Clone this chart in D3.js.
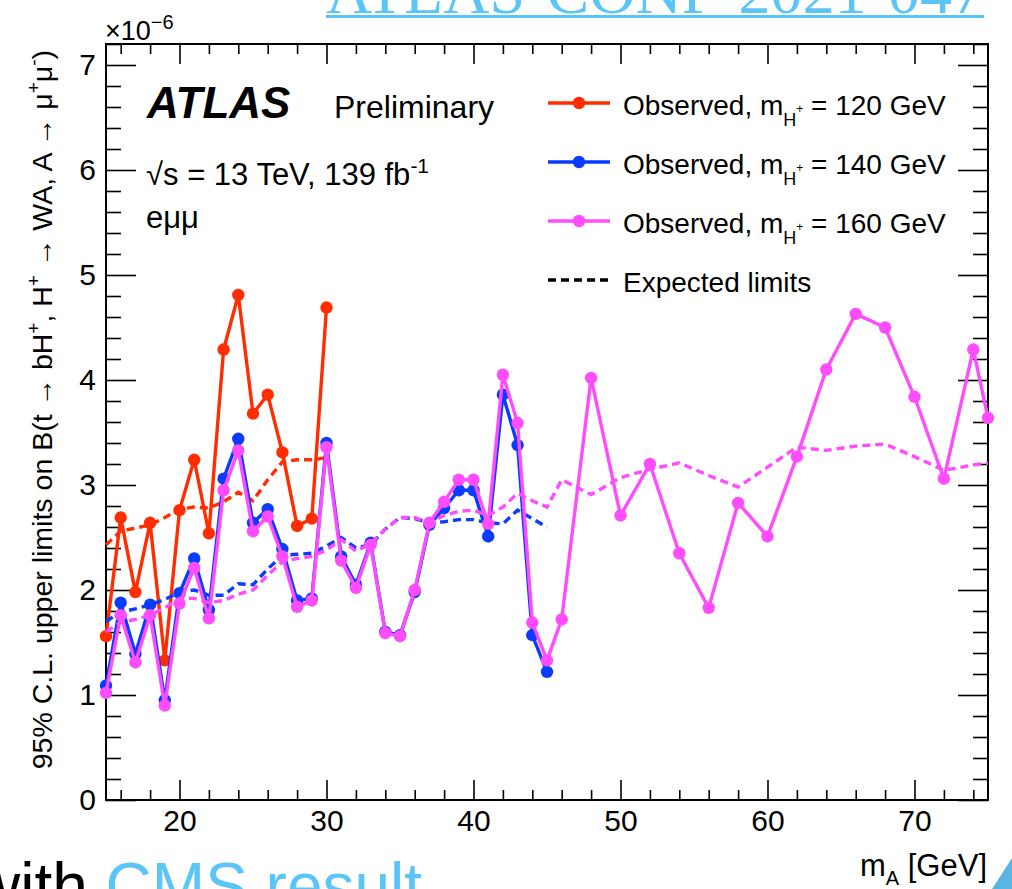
<!DOCTYPE html>
<html>
<head>
<meta charset="utf-8">
<script src="https://cdn.jsdelivr.net/npm/d3@7"></script>
<style>
  body { margin: 0; background: #fff; }
  svg text { font-family: "Liberation Sans", Arial, Helvetica, sans-serif; }
</style>
</head>
<body>
<svg id="chart" width="1012" height="889"></svg>
<script>
// ---- data: 95% CL upper limits (units of 1e-6) vs m_A [GeV] ----
const massH120 = [15,16,17,18,19,20,21,22,23,24,25,26,27,28,29,30];
const obsH120  = [1.56,2.69,1.98,2.64,1.33,2.76,3.24,2.54,4.29,4.81,3.68,3.86,3.31,2.61,2.68,4.69];
const expH120  = [2.43,2.56,2.59,2.62,2.69,2.77,2.79,2.78,2.84,2.93,2.85,3.05,3.22,3.24,3.24,3.26];

const massH140 = [15,16,17,18,19,20,21,22,23,24,25,26,27,28,29,30,31,32,33,34,35,36,37,38,39,40,41,42,43,44,45];
const obsH140  = [1.09,1.88,1.39,1.86,0.95,1.97,2.30,1.81,3.06,3.44,2.64,2.77,2.39,1.90,1.92,3.40,
                  2.32,2.05,2.45,1.60,1.57,1.98,2.62,2.78,2.95,2.95,2.51,3.86,3.38,1.57,1.22];
const expH140  = [1.70,1.79,1.82,1.86,1.91,1.98,2.00,1.95,1.95,2.06,2.05,2.20,2.33,2.34,2.35,2.42,
                  2.50,2.40,2.43,2.58,2.69,2.68,2.64,2.65,2.67,2.67,2.64,2.63,2.76,2.68,2.60];

const massH160 = [15,16,17,18,19,20,21,22,23,24,25,26,27,28,29,30,31,32,33,34,35,36,37,38,39,40,
                  41,42,43,44,45,46,48,50,52,54,56,58,60,62,64,66,68,70,72,74,75];
const obsH160  = [1.02,1.76,1.31,1.76,0.90,1.87,2.21,1.73,2.95,3.33,2.56,2.70,2.32,1.84,1.90,3.36,
                  2.28,2.02,2.43,1.59,1.56,2.00,2.64,2.84,3.05,3.05,2.63,4.05,3.59,1.69,1.33,1.72,
                  4.02,2.71,3.20,2.35,1.83,2.83,2.51,3.27,4.10,4.63,4.50,3.84,3.06,4.29,3.64];
const expH160  = [1.60,1.69,1.72,1.76,1.83,1.92,1.92,1.88,1.90,1.96,2.00,2.14,2.27,2.30,2.32,2.38,
                  2.48,2.37,2.44,2.58,2.69,2.69,2.64,2.71,2.75,2.76,2.71,2.79,2.92,2.85,2.79,3.05,
                  2.91,3.07,3.15,3.21,3.09,2.98,3.17,3.36,3.33,3.37,3.39,3.27,3.14,3.19,3.21];

const xMajorTicks = [20,30,40,50,60,70];
const xMinorTicks = [16,18,22,24,26,28,32,34,36,38,42,44,46,48,52,54,56,58,62,64,66,68,72,74];
const yMajorTicks = [0,1,2,3,4,5,6,7];
const yMinorTicks = [0.2,0.4,0.6,0.8,1.2,1.4,1.6,1.8,2.2,2.4,2.6,2.8,3.2,3.4,3.6,3.8,
                     4.2,4.4,4.6,4.8,5.2,5.4,5.6,5.8,6.2,6.4,6.6,6.8,7.2];

const seriesDefs = [
  { mass: massH120, obs: obsH120, exp: expH120, color: "#ff2d00", label: "120 GeV" },
  { mass: massH140, obs: obsH140, exp: expH140, color: "#0a3cff", label: "140 GeV" },
  { mass: massH160, obs: obsH160, exp: expH160, color: "#ff4cff", label: "160 GeV" }
];

// ---- frame ----
const svg = d3.select("#chart");
const frameL = 106, frameR = 988, frameT = 44, frameB = 800;
const x = d3.scaleLinear().domain([15, 75]).range([frameL, frameR]);
const y = d3.scaleLinear().domain([0, 7.2]).range([frameB, frameT]);

// header / footer slide text
svg.append("text")
  .attr("x", 326).attr("y", 13)
  .style("font-family", "'Liberation Serif', 'Times New Roman', serif")
  .attr("font-size", 64).attr("fill", "#5cc5f8")
  .attr("textLength", 658).attr("lengthAdjust", "spacingAndGlyphs")
  .text("ATLAS-CONF-2021-047");
svg.append("rect").attr("x", 326).attr("y", 15).attr("width", 658).attr("height", 3).attr("fill", "#5cc5f8");

const foot = svg.append("text").attr("x", -26).attr("y", 908).attr("font-size", 64);
foot.append("tspan").attr("fill", "#000").text("with ");
foot.append("tspan").attr("fill", "#5cc5f8").text("CMS result");
svg.append("polygon").attr("points", "1012,858 1012,889 992,889").attr("fill", "#5ab4e4");

// ---- axes ----
function tidy(g) { g.select(".domain").remove(); g.selectAll("line").attr("stroke", "#000").attr("stroke-width", 1.6); }
function labelStyle(g) {
  g.selectAll("text").attr("font-size", 30).attr("fill", "#000")
    .style("font-family", "'Liberation Sans', Arial, sans-serif");
}

svg.append("g").attr("transform", `translate(0,${frameB})`)
  .call(d3.axisBottom(x).tickValues(xMinorTicks).tickSize(-10).tickFormat(""))
  .call(tidy);
svg.append("g").attr("transform", `translate(0,${frameB})`)
  .call(d3.axisBottom(x).tickValues(xMajorTicks).tickSize(-20).tickPadding(10).tickFormat(d3.format("d")))
  .call(tidy).call(labelStyle);
svg.append("g").attr("transform", `translate(0,${frameT})`)
  .call(d3.axisTop(x).tickValues(xMinorTicks).tickSize(-10).tickFormat(""))
  .call(tidy);
svg.append("g").attr("transform", `translate(0,${frameT})`)
  .call(d3.axisTop(x).tickValues(xMajorTicks).tickSize(-20).tickFormat(""))
  .call(tidy);

svg.append("g").attr("transform", `translate(${frameL},0)`)
  .call(d3.axisLeft(y).tickValues(yMinorTicks).tickSize(-15).tickFormat(""))
  .call(tidy);
svg.append("g").attr("transform", `translate(${frameL},0)`)
  .call(d3.axisLeft(y).tickValues(yMajorTicks).tickSize(-30).tickPadding(10).tickFormat(d3.format("d")))
  .call(tidy).call(labelStyle);
svg.append("g").attr("transform", `translate(${frameR},0)`)
  .call(d3.axisRight(y).tickValues(yMinorTicks).tickSize(-15).tickFormat(""))
  .call(tidy);
svg.append("g").attr("transform", `translate(${frameR},0)`)
  .call(d3.axisRight(y).tickValues(yMajorTicks).tickSize(-30).tickFormat(""))
  .call(tidy);

svg.append("rect").attr("x", frameL).attr("y", frameT).attr("width", frameR - frameL).attr("height", frameB - frameT)
  .attr("fill", "none").attr("stroke", "#000").attr("stroke-width", 2);

// exponent label
const expo = svg.append("text").attr("x", 105).attr("y", 40).attr("font-size", 27);
expo.append("tspan").text("×10");
expo.append("tspan").attr("font-size", 20).attr("baseline-shift", 11).text("−6");

// axis titles
const yTitle = svg.append("text")
  .attr("transform", "translate(52,50) rotate(-90)")
  .attr("text-anchor", "end").attr("font-size", 28.5);
[["95% C.L. upper limits on B(t → bH"], ["+", "sup"], [", H"], ["+", "sup"], [" → WA, A → μ"], ["+", "sup"], ["μ"], ["-", "sup"], [")"]]
  .forEach(([t, kind]) => {
    const ts = yTitle.append("tspan").text(t);
    if (kind === "sup") ts.attr("font-size", 19).attr("baseline-shift", 12);
  });

const xTitle = svg.append("text").attr("x", 987).attr("y", 876).attr("text-anchor", "end").attr("font-size", 31);
xTitle.append("tspan").text("m");
xTitle.append("tspan").attr("font-size", 20).attr("baseline-shift", -9).text("A");
xTitle.append("tspan").text(" [GeV]");

// ---- curves ----
const plot = svg.append("g");
const line = d3.line().x(d => x(d.m)).y(d => y(d.v));

seriesDefs.forEach(s => {
  const obsPts = s.mass.map((m, i) => ({ m, v: s.obs[i] }));
  const expPts = s.mass.map((m, i) => ({ m, v: s.exp[i] }));
  plot.append("path").datum(obsPts).attr("d", line)
    .attr("fill", "none").attr("stroke", s.color).attr("stroke-width", 3.4).attr("stroke-linejoin", "round");
  plot.selectAll(null).data(obsPts).enter().append("circle")
    .attr("cx", d => x(d.m)).attr("cy", d => y(d.v)).attr("r", 6.2).attr("fill", s.color);
  plot.append("path").datum(expPts).attr("d", line)
    .attr("fill", "none").attr("stroke", s.color).attr("stroke-width", 3.4).attr("stroke-dasharray", "8,5");
});

// ---- labels ----
svg.append("text").attr("x", 147).attr("y", 118).attr("font-size", 44)
  .attr("font-weight", "bold").attr("font-style", "italic").text("ATLAS");
svg.append("text").attr("x", 334).attr("y", 118).attr("font-size", 32).text("Preliminary");
const energy = svg.append("text").attr("x", 146).attr("y", 185).attr("font-size", 31);
energy.append("tspan").text("√s = 13 TeV, 139 fb");
energy.append("tspan").attr("font-size", 21).attr("baseline-shift", 12).text("-1");
svg.append("text").attr("x", 146).attr("y", 228).attr("font-size", 31).text("eμμ");

// ---- legend ----
const legendRows = [115, 174, 233];
seriesDefs.forEach((s, i) => {
  const yy = legendRows[i];
  svg.append("line").attr("x1", 548).attr("x2", 610).attr("y1", yy - 12).attr("y2", yy - 12)
    .attr("stroke", s.color).attr("stroke-width", 3.4);
  svg.append("circle").attr("cx", 579).attr("cy", yy - 12).attr("r", 6.2).attr("fill", s.color);
  const t = svg.append("text").attr("x", 623).attr("y", yy).attr("font-size", 28);
  t.append("tspan").text("Observed, m");
  t.append("tspan").attr("font-size", 18).attr("baseline-shift", -11).text("H");
  t.append("tspan").attr("font-size", 12).attr("baseline-shift", 2).text("+");
  t.append("tspan").text(" = " + s.label);
});
svg.append("line").attr("x1", 548).attr("x2", 610).attr("y1", 280).attr("y2", 280)
  .attr("stroke", "#000").attr("stroke-width", 3.4).attr("stroke-dasharray", "8,5");
svg.append("text").attr("x", 623).attr("y", 292).attr("font-size", 28).text("Expected limits");
</script>
</body>
</html>
